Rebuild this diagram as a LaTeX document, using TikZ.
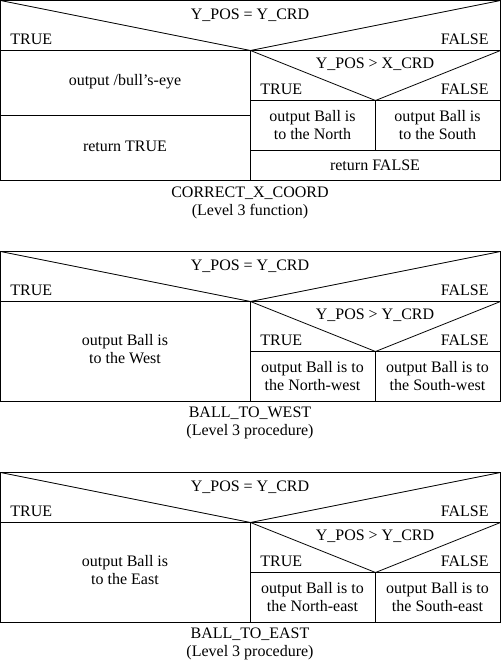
\documentclass[tikz,border=0pt]{standalone}
\usepackage{fontspec}
\setmainfont{Liberation Serif}
\begin{document}
\begin{tikzpicture}[x=1pt,y=-1pt,line width=0.8pt,
  txt/.style={font=\fontsize{16}{17.5}\selectfont,inner sep=0pt,align=center},
  tl/.style={txt,anchor=base west},
  tr/.style={txt,anchor=base east},
  tc/.style={txt,anchor=base}]
\useasboundingbox (0,0) rectangle (501,664);
% ---------- Diagram 1 ----------
\begin{scope}
\draw (0.5,0.5) rectangle (500.5,180.5);
\draw (0.5,50.5) -- (500.5,50.5);
\draw (0.5,0.5) -- (250.5,50.5) -- (500.5,0.5);
\draw (250.5,50.5) -- (250.5,180.5);
\draw (0.5,115.5) -- (250.5,115.5);
\draw (250.5,100.5) -- (500.5,100.5);
\draw (250.5,50.5) -- (375.5,100.5) -- (500.5,50.5);
\draw (375.5,100.5) -- (375.5,150.5);
\draw (250.5,150.5) -- (500.5,150.5);
\node[tc] (a1) at (250,19) {Y\_POS = Y\_CRD};
\node[tl] (a2) at (10,44) {TRUE};
\node[tr] (a3) at (489,44) {FALSE};
\node[txt] (a4) at (125,82) {output /bull's-eye};
\node[txt] (a5) at (125,146) {return TRUE};
\node[tc] (a6) at (375,68) {Y\_POS > X\_CRD};
\node[tl] (a7) at (260,94) {TRUE};
\node[tr] (a8) at (489,94) {FALSE};
\node[txt] (a9) at (312.5,125) {output Ball is\\to the North};
\node[txt] (a10) at (437.5,125) {output Ball is\\to the South};
\node[txt] (a11) at (375,165) {return FALSE};
\node[txt] (a12) at (250,203) {CORRECT\_X\_COORD\\(Level 3 function)};
\end{scope}
% ---------- Diagram 2 ----------
\begin{scope}[shift={(0,251)}]
\draw (0.5,0.5) rectangle (500.5,150.5);
\draw (0.5,50.5) -- (500.5,50.5);
\draw (0.5,0.5) -- (250.5,50.5) -- (500.5,0.5);
\draw (250.5,50.5) -- (250.5,150.5);
\draw (250.5,100.5) -- (500.5,100.5);
\draw (250.5,50.5) -- (375.5,100.5) -- (500.5,50.5);
\draw (375.5,100.5) -- (375.5,150.5);
\node[tc] (b1) at (250,19) {Y\_POS = Y\_CRD};
\node[tl] (b2) at (10,44) {TRUE};
\node[tr] (b3) at (489,44) {FALSE};
\node[txt] (b4) at (125,98) {output Ball is\\to the West};
\node[tc] (b6) at (375,68) {Y\_POS > Y\_CRD};
\node[tl] (b7) at (260,94) {TRUE};
\node[tr] (b8) at (489,94) {FALSE};
\node[txt] (b9) at (312.5,125) {output Ball is to\\the North-west};
\node[txt] (b10) at (437.5,125) {output Ball is to\\the South-west};
\node[txt] (b12) at (250,172) {BALL\_TO\_WEST\\(Level 3 procedure)};
\end{scope}
% ---------- Diagram 3 ----------
\begin{scope}[shift={(0,472)}]
\draw (0.5,0.5) rectangle (500.5,150.5);
\draw (0.5,50.5) -- (500.5,50.5);
\draw (0.5,0.5) -- (250.5,50.5) -- (500.5,0.5);
\draw (250.5,50.5) -- (250.5,150.5);
\draw (250.5,100.5) -- (500.5,100.5);
\draw (250.5,50.5) -- (375.5,100.5) -- (500.5,50.5);
\draw (375.5,100.5) -- (375.5,150.5);
\node[tc] (c1) at (250,19) {Y\_POS = Y\_CRD};
\node[tl] (c2) at (10,44) {TRUE};
\node[tr] (c3) at (489,44) {FALSE};
\node[txt] (c4) at (125,98) {output Ball is\\to the East};
\node[tc] (c6) at (375,68) {Y\_POS > Y\_CRD};
\node[tl] (c7) at (260,94) {TRUE};
\node[tr] (c8) at (489,94) {FALSE};
\node[txt] (c9) at (312.5,125) {output Ball is to\\the North-east};
\node[txt] (c10) at (437.5,125) {output Ball is to\\the South-east};
\node[txt] (c12) at (250,172) {BALL\_TO\_EAST\\(Level 3 procedure)};
\end{scope}
\end{tikzpicture}
\end{document}
